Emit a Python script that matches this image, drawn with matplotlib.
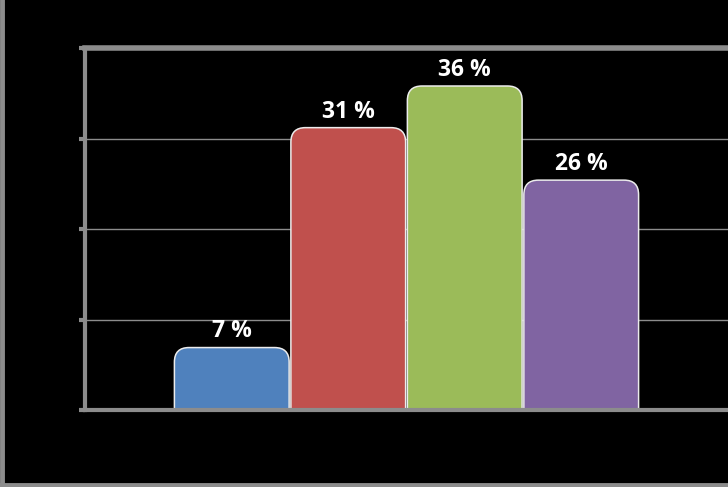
import matplotlib
matplotlib.use("Agg")
import matplotlib.pyplot as plt
from matplotlib.patches import FancyBboxPatch
from matplotlib.lines import Line2D

# datos del grafico
categorias = ["A", "B", "C", "D"]
valores = [6.9, 31.2, 35.8, 25.4]
etiquetas = ["7 %", "31 %", "36 %", "26 %"]
colores = ["#4F81BD", "#C0504D", "#9BBB59", "#8064A2"]
ticks_y = [0, 10, 20, 30, 40]
ticks_y_txt = ["0%", "10%", "20%", "30%", "40%"]

gris = "#8c8c8c"

fig = plt.figure(figsize=(7.28, 4.87), dpi=100, facecolor="black")
ax = fig.add_axes([85 / 728, 1 - 410 / 487, 1 - 85 / 728, (410 - 48) / 487])
ax.set_facecolor("black")

ax.set_xlim(-1.26, 4.26)
ax.set_ylim(0, 40)
ax.set_yticks(ticks_y)
ax.set_yticklabels(ticks_y_txt, color="black", fontsize=12)
ax.set_xticks([])

# rejilla
for t in ticks_y[1:-1]:
    ax.axhline(t, color=gris, lw=1, zorder=1)
ax.axhline(40, color=gris, lw=4, zorder=1, clip_on=False)

for s in ["top", "right"]:
    ax.spines[s].set_visible(False)
for s in ["left", "bottom"]:
    ax.spines[s].set_color(gris)
    ax.spines[s].set_linewidth(3)
    ax.spines[s].set_zorder(5)
ax.tick_params(axis="y", colors=gris, length=4, width=3, labelcolor="black")

# relacion pixel x / pixel y para redondear esquinas
p0 = ax.transData.transform((0, 0))
p1 = ax.transData.transform((1, 1))
aspecto = (p1[0] - p0[0]) / (p1[1] - p0[1])

ancho = 0.985
radio = 0.125
for i, (v, c) in enumerate(zip(valores, colores)):
    caja = FancyBboxPatch((i - ancho / 2, -3), ancho, v + 3,
                          boxstyle="round,pad=0,rounding_size=%f" % radio,
                          mutation_aspect=aspecto,
                          facecolor=c, edgecolor="#ececec", lw=1.1, zorder=3)
    ax.add_patch(caja)
    ax.text(i, v + 0.45, etiquetas[i], color="white", ha="center", va="bottom",
            fontsize=16.5, fontweight="bold", family="Open Sans", zorder=6)

# borde exterior gris (izquierda y abajo)
fig.add_artist(Line2D([0.003, 0.003], [0, 1], transform=fig.transFigure,
                      color=gris, lw=3.5))
fig.add_artist(Line2D([0, 1], [0.004, 0.004], transform=fig.transFigure,
                      color=gris, lw=3.5))

fig.savefig("out.png", dpi=100, facecolor="black")
